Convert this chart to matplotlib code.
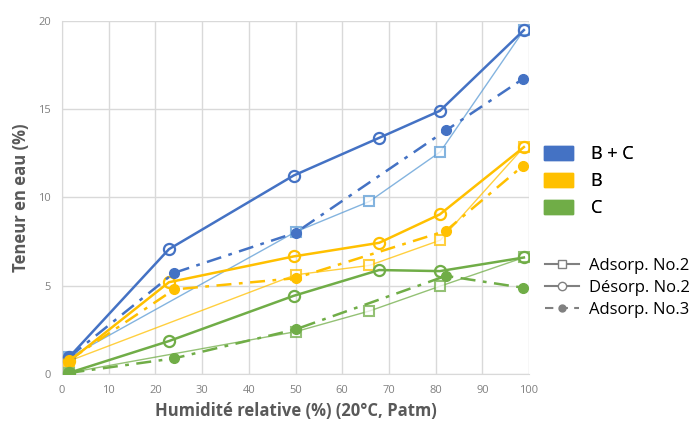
import matplotlib
matplotlib.use('Agg')
import matplotlib.pyplot as plt
from matplotlib.patches import Patch
from matplotlib.lines import Line2D

# --- Data ---
# Adsorption No.2 (thin line, open squares)
x_ads2 = [1.6, 50, 65.8, 81, 98.9]
bc_ads2 = [0.95, 8.05, 9.77, 12.58, 19.47]
b_ads2 = [0.75, 5.62, 6.15, 7.58, 12.85]
c_ads2 = [0.08, 2.4, 3.57, 4.98, 6.6]

# Desorption No.2 (solid, open circles)
x_des2 = [1.6, 22.9, 49.6, 67.9, 80.9, 98.9]
bc_des2 = [0.98, 7.07, 11.24, 13.37, 14.9, 19.47]
b_des2 = [0.74, 5.2, 6.66, 7.43, 9.04, 12.85]
c_des2 = [0.08, 1.87, 4.43, 5.89, 5.83, 6.6]

# Adsorption No.3 (dash-dot, filled dots)
x_ads3 = [1.6, 24.0, 50, 82.2, 98.7]
bc_ads3 = [0.98, 5.73, 8.0, 13.79, 16.71]
b_ads3 = [0.8, 4.79, 5.43, 8.11, 11.79]
c_ads3 = [0.07, 0.89, 2.53, 5.56, 4.89]

groups = ['B + C', 'B', 'C']
series = ['Adsorp. No.2', 'Désorp. No.2', 'Adsorp. No.3']
colors_main = ['#4472C4', '#FFC000', '#70AD47']
colors_ads2 = ['#5B9BD5', '#FFC000', '#70AD47']

plt.rcParams['font.family'] = ['Open Sans', 'DejaVu Sans']

fig = plt.figure(figsize=(6.94, 4.32), dpi=100)
ax = fig.add_axes([0.0893, 0.134, 0.673, 0.818])

ads2 = [bc_ads2, b_ads2, c_ads2]
des2 = [bc_des2, b_des2, c_des2]
ads3 = [bc_ads3, b_ads3, c_ads3]

for i in range(3):
    ax.plot(x_ads2, ads2[i], color=colors_ads2[i], lw=1.0, alpha=0.75,
            marker='s', ms=7, mfc='white', mec=colors_ads2[i], mew=1.5, zorder=3)
    ax.plot(x_des2, des2[i], color=colors_main[i], lw=1.8,
            marker='o', ms=8, mfc='none', mec=colors_main[i], mew=1.6, zorder=4)
    ax.plot(x_ads3, ads3[i], color=colors_main[i], lw=1.8, ls=(0, (6, 3, 1.5, 3)),
            marker='o', ms=7, mfc=colors_main[i], mec=colors_main[i], zorder=5)

ax.set_xlim(0, 100)
ax.set_ylim(0, 20)
ax.set_xticks(range(0, 101, 10))
ax.set_yticks(range(0, 21, 5))
ax.grid(True, color='#D9D9D9', lw=1.0)
ax.set_axisbelow(True)
for s in ['top', 'right']:
    ax.spines[s].set_visible(False)
for s in ['left', 'bottom']:
    ax.spines[s].set_color('#D9D9D9')
ax.tick_params(length=0, colors='#808080', labelsize=8, pad=8)

ax.set_xlabel('Humidité relative (%) (20°C, Patm)', fontsize=12, fontweight='bold',
              color='#595959', labelpad=4)
ax.set_ylabel('Teneur en eau (%)', fontsize=12, fontweight='bold',
              color='#595959', labelpad=6)

# --- Legends ---
patches = [Patch(facecolor=c, edgecolor=c) for c in colors_main]
leg1 = fig.legend(patches, groups, loc='upper left', bbox_to_anchor=(0.773, 0.681),
                  frameon=False, fontsize=13, handlelength=1.6, handleheight=0.8,
                  labelspacing=0.5, handletextpad=1.0, borderaxespad=0)
fig.add_artist(leg1)

gray = '#808080'
lines = [
    Line2D([], [], color=gray, lw=1.5, marker='s', ms=6, mfc='white', mec=gray),
    Line2D([], [], color=gray, lw=1.5, marker='o', ms=6, mfc='white', mec=gray),
    Line2D([], [], color=gray, lw=1.5, ls=(0, (4, 3)), marker='o', ms=5, mfc=gray, mec=gray),
]
fig.legend(lines, series, loc='upper left',
           bbox_to_anchor=(0.776, 0.418), frameon=False, fontsize=12, handlelength=2.0,
           labelspacing=0.35, handletextpad=0.6, borderaxespad=0)

fig.savefig('out.png', dpi=100)
